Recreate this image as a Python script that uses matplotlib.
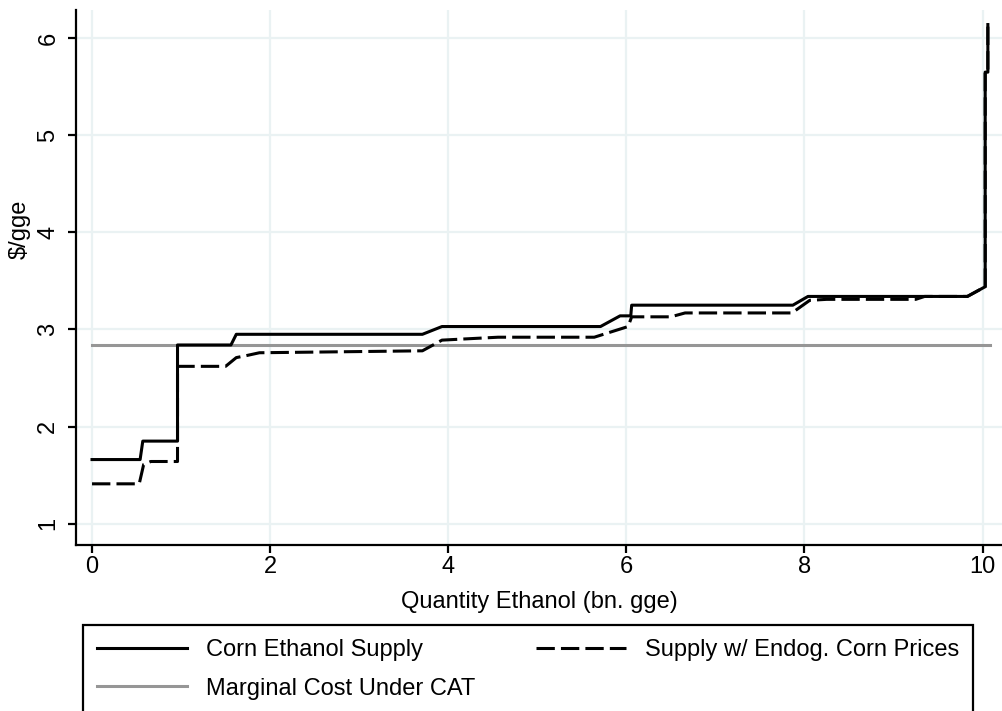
import matplotlib
matplotlib.use("Agg")
import matplotlib.pyplot as plt

plt.rcParams['font.family'] = ['Liberation Sans', 'DejaVu Sans']

# Corn ethanol supply curve (bn. gge, $/gge)
supply_x = [0, 0.54, 0.57, 0.96, 0.96, 1.56, 1.62, 3.71, 3.93, 5.71, 5.93, 6.05, 6.06,
            7.87, 8.04, 9.83, 10.03, 10.03, 10.06, 10.06]
supply_y = [1.66, 1.66, 1.85, 1.85, 2.84, 2.84, 2.95, 2.95, 3.03, 3.03, 3.14, 3.14, 3.25,
            3.25, 3.34, 3.34, 3.44, 5.65, 5.65, 6.14]

# supply with endogenous corn prices
endog_x = [0, 0.53, 0.58, 0.66, 0.96, 0.96, 1.50, 1.62, 1.73, 1.88, 2.8, 3.71, 3.93,
           4.56, 5.64, 6.02, 6.06, 6.50, 6.66, 7.86, 8.06, 8.25, 9.25, 9.35, 9.83,
           10.03, 10.03, 10.06, 10.06]
endog_y = [1.41, 1.41, 1.61, 1.64, 1.64, 2.62, 2.62, 2.71, 2.73, 2.76, 2.77, 2.78, 2.89,
           2.92, 2.92, 3.03, 3.13, 3.13, 3.17, 3.17, 3.30, 3.31, 3.31, 3.34, 3.34,
           3.44, 5.65, 5.65, 6.14]

# marginal cost under CAT
mc_x = [0, 10.08]
mc_y = [2.84, 2.84]

xticks = [0, 2, 4, 6, 8, 10]
yticks = [1, 2, 3, 4, 5, 6]

FS = 17

fig = plt.figure(figsize=(10.03, 7.11), dpi=100)
ax = fig.add_axes([76 / 1003, 166 / 711, 927 / 1003, 535 / 711])

l3, = ax.plot(mc_x, mc_y, color='#969696', lw=2.2, label='Marginal Cost Under CAT', zorder=3)
l1, = ax.plot(supply_x, supply_y, color='black', lw=2.2, label='Corn Ethanol Supply', zorder=4)
l2, = ax.plot(endog_x, endog_y, color='black', lw=2.2, dashes=(6, 2),
              label='Supply w/ Endog. Corn Prices', zorder=4)

ax.set_xlim(-0.18, 10.23)
ax.set_ylim(0.78, 6.29)
ax.set_xticks(xticks)
ax.set_yticks(yticks)
ax.grid(True, color='#eaf2f3', lw=1.6, zorder=0)
ax.set_axisbelow(True)

for s in ['top', 'right']:
    ax.spines[s].set_visible(False)
for s in ['left', 'bottom']:
    ax.spines[s].set_linewidth(1.6)

ax.tick_params(axis='both', length=6, width=1.6, labelsize=FS)
ax.tick_params(axis='x', pad=2)
ax.tick_params(axis='y', pad=6)
for t in ax.get_yticklabels():
    t.set_rotation(90)
    t.set_va('center')

ax.set_xlabel('Quantity Ethanol (bn. gge)', fontsize=FS, labelpad=9)
ax.set_ylabel(r'\$/gge', fontsize=FS)
ax.yaxis.set_label_coords(-0.049, 0.59)

leg = fig.legend([l1, l3, l2],
                 ['Corn Ethanol Supply', 'Marginal Cost Under CAT', 'Supply w/ Endog. Corn Prices'],
                 ncol=2, loc='upper left', bbox_to_anchor=(83 / 1003, 1 - 625 / 711),
                 borderaxespad=0, fontsize=FS, handlelength=3.8, handletextpad=0.8,
                 columnspacing=2.6, labelspacing=0.7, borderpad=0.6,
                 fancybox=False, framealpha=1, edgecolor='black')
leg.get_frame().set_linewidth(1.6)

fig.savefig('out.png', dpi=100)
